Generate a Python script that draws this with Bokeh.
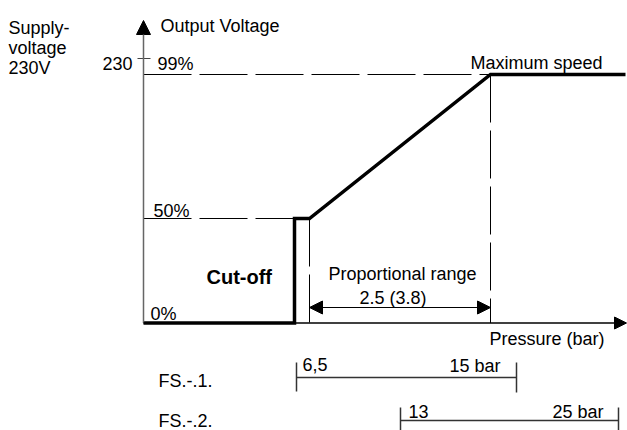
from bokeh.plotting import figure
from bokeh.models import Range1d, Arrow, NormalHead, ColumnDataSource
from bokeh.core.properties import value
from bokeh.embed import file_html
from bokeh.resources import INLINE

# ---- schematic data (diagram units: x from the voltage axis, y up from 0%) ----
level_labels = ["0%", "50%", "99%"]
level_y = [0, 104.5, 248.5]
supply_y = 264.5            # 230 V mark

pressure_cutoff = 151       # cut-off pressure position
pressure_prop_start = 166   # start of proportional range
pressure_max = 347          # maximum speed reached
pressure_axis_end = 483
curve_end = 482

curve_x = [0, pressure_cutoff, pressure_cutoff, pressure_prop_start, pressure_max, curve_end]
curve_y = [level_y[0], level_y[0], level_y[1], level_y[1], level_y[2], level_y[2]]

fs_names = ["FS.-.1.", "FS.-.2."]
fs_start = [153, 257]
fs_end = [373, 475]
fs_level = [-54.5, -97.5]
fs_low_labels = ["6,5", "13"]
fs_high_labels = ["15 bar", "25 bar"]

# text annotations
txt_x = [-135, -135, -135, 17, -11, 14, 327, 10, 7, 185, 216, 346]
txt_y = [295.5, 275.5, 255.5, 297.5, 259.5, 259.5, 260.5, 112.5, 9.5, 49.5, 25.5, -15.5]
txt = ["Supply-", "voltage", "230V", "Output Voltage", "230", level_labels[2],
       "Maximum speed", level_labels[1], level_labels[0], "Proportional range",
       "2.5 (3.8)", "Pressure (bar)"]
txt_align = ["left", "left", "left", "left", "right", "left", "left", "left",
             "left", "left", "left", "left"]

FONT = value("Liberation Sans")

p = figure(width=627, height=430, output_backend="svg", toolbar_location=None,
           x_range=Range1d(-143, 484), y_range=Range1d(-107.5, 322.5),
           min_border=0, min_border_left=0, min_border_right=0,
           min_border_top=0, min_border_bottom=0)
p.axis.visible = False
p.grid.visible = False
p.outline_line_color = None
p.background_fill_color = "white"
p.border_fill_color = "white"

# dashed guide lines
dash_xs = [[0, pressure_max], [0, pressure_cutoff],
           [pressure_prop_start, pressure_prop_start], [pressure_max, pressure_max]]
dash_ys = [[level_y[2], level_y[2]], [level_y[1], level_y[1]],
           [level_y[1], level_y[0]], [level_y[2], level_y[0]]]
p.multi_line(dash_xs, dash_ys, line_color="black", line_width=1, line_dash="48 8")

# 230 tick
p.line([-6, 7], [supply_y, supply_y], line_color="#444", line_width=1)

# axes with arrows
p.add_layout(Arrow(x_start=0, y_start=0, x_end=0, y_end=302.5,
                   line_color="#666", line_width=1.5,
                   end=NormalHead(size=14, fill_color="black", line_color="black", line_width=1)))
p.add_layout(Arrow(x_start=0, y_start=0, x_end=pressure_axis_end, y_end=0,
                   line_color="black", line_width=1.5,
                   end=NormalHead(size=12, fill_color="black", line_color="black", line_width=1)))

# main characteristic curve
p.line(curve_x, curve_y, line_color="black", line_width=3.5, line_join="miter")

# proportional range double arrow
p.add_layout(Arrow(x_start=pressure_prop_start, y_start=15.5, x_end=pressure_max, y_end=15.5,
                   line_color="black", line_width=1,
                   start=NormalHead(size=13, fill_color="black", line_color="black", line_width=1),
                   end=NormalHead(size=13, fill_color="black", line_color="black", line_width=1)))

# FS ranges
for i in range(2):
    p.line([fs_start[i], fs_end[i]], [fs_level[i], fs_level[i]], line_color="#333", line_width=1.5)
fs_tick_xs = [[fs_start[0], fs_start[0]], [fs_end[0], fs_end[0]],
              [fs_start[1], fs_start[1]], [fs_end[1], fs_end[1]]]
fs_tick_ys = [[fs_level[0] + 15, fs_level[0] - 14], [fs_level[0] + 15, fs_level[0] - 15],
              [fs_level[1] + 13, fs_level[1] - 10], [fs_level[1] + 13, fs_level[1] - 10]]
p.multi_line(fs_tick_xs, fs_tick_ys, line_color="#333", line_width=1.5)

src = ColumnDataSource(dict(x=txt_x, y=txt_y, text=txt, align=txt_align))
p.text(x="x", y="y", text="text", text_align="align", source=src,
       text_font=FONT, text_font_size="18px", text_baseline="middle", text_color="black")

p.text(x=[63], y=[46.5], text=["Cut-off"], text_font=FONT, text_font_size="20px",
       text_font_style="bold", text_baseline="middle", text_color="black")

p.text(x=[15, 15], y=[-57.5, -97.5], text=fs_names, text_font=FONT,
       text_font_size="18px", text_baseline="middle", text_color="black")
p.text(x=[159, 265], y=[-41.5, -88.5], text=fs_low_labels, text_font=FONT,
       text_font_size="18px", text_baseline="middle", text_color="black")
p.text(x=[357, 460], y=[-42.5, -88.5], text=fs_high_labels, text_font=FONT,
       text_font_size="18px", text_baseline="middle", text_align="right", text_color="black")

open("out.html", "w").write(file_html(p, INLINE))
